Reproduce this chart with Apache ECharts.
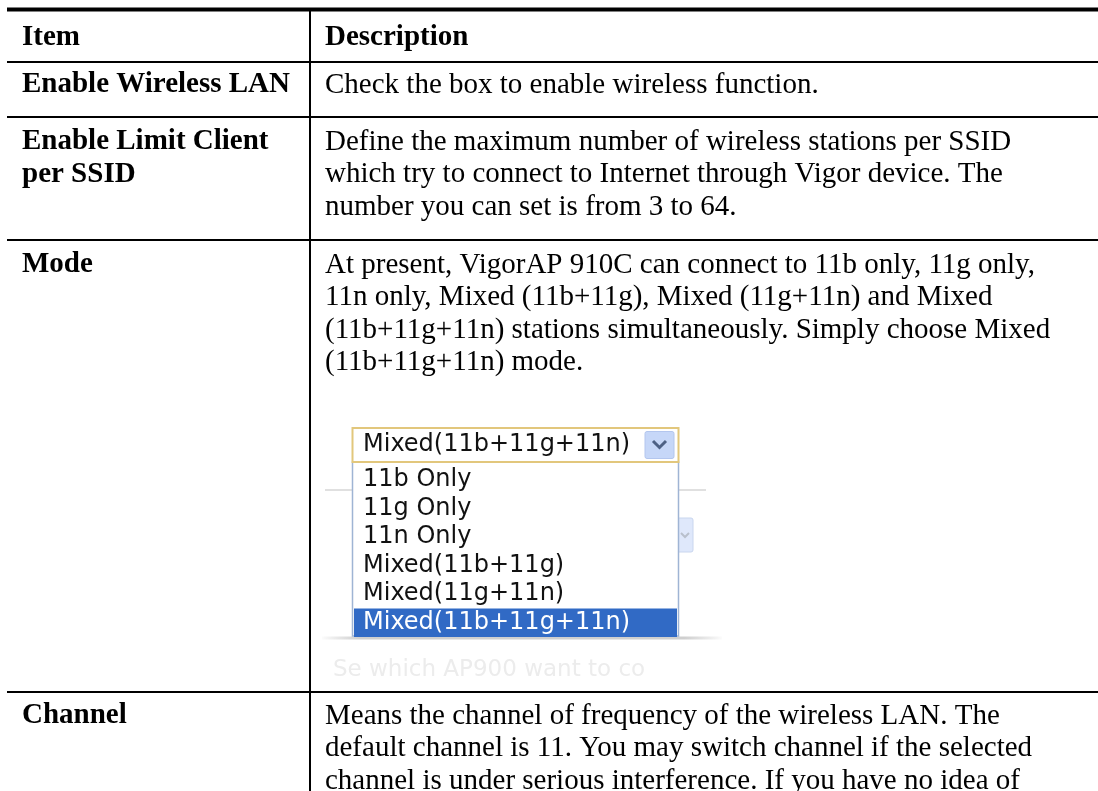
<!DOCTYPE html>
<html>
<head>
<meta charset="utf-8">
<script src="https://cdn.jsdelivr.net/npm/echarts@6/dist/echarts.min.js"></script>
<style>
html,body{margin:0;padding:0;background:#fff;}
#chart{width:1098px;height:791px;}
</style>
</head>
<body>
<div id="chart"></div>
<script>
// ---- content ----
const headers = ['Item', 'Description'];
const items = [
  ['Enable Wireless LAN'],
  ['Enable Limit Client', 'per SSID'],
  ['Mode'],
  ['Channel']
];
const descriptions = [
  ['Check the box to enable wireless function.'],
  ['Define the maximum number of wireless stations per SSID',
   'which try to connect to Internet through Vigor device. The',
   'number you can set is from 3 to 64.'],
  ['At present, VigorAP 910C can connect to 11b only, 11g only,',
   '11n only, Mixed (11b+11g), Mixed (11g+11n) and Mixed',
   '(11b+11g+11n) stations simultaneously. Simply choose Mixed',
   '(11b+11g+11n) mode.'],
  ['Means the channel of frequency of the wireless LAN. The',
   'default channel is 11. You may switch channel if the selected',
   'channel is under serious interference. If you have no idea of']
];
const modeOptions = ['11b Only', '11g Only', '11n Only', 'Mixed(11b+11g)', 'Mixed(11g+11n)', 'Mixed(11b+11g+11n)'];
const modeSelected = 'Mixed(11b+11g+11n)';
const fadedText = 'Se which AP900 want to co';

// ---- layout ----
const W = 1098, H = 791;
const LEFT = 7, DIVX = 310, COL1X = 22, COL2X = 325;
const rowLineY = [62, 117, 240, 692];   // separators under header and each row
const firstLineOffset = [23, 25, 25, 24];
const LH = 32.5, FS = 29;
const SERIF = '"Liberation Serif", "Times New Roman", serif';
const UI = '"DejaVu Sans", Verdana, sans-serif';

const els = [];
function line(x1, y1, x2, y2, w, c) {
  els.push({type: 'line', silent: true, shape: {x1, y1, x2, y2}, style: {stroke: c || '#000', lineWidth: w}});
}
function text(t, x, y, size, weight, fill, family) {
  els.push({type: 'text', silent: true, x: x, y: y,
    style: {text: t, fontSize: size, fontWeight: weight || 'normal', fontFamily: family || SERIF,
      fill: fill || '#000', align: 'left', verticalAlign: 'middle', textAlign: 'left', textVerticalAlign: 'middle'}});
}
function rect(x, y, w, h, fill, stroke, lw, r) {
  els.push({type: 'rect', silent: true, shape: {x, y, width: w, height: h, r: r || 0},
    style: {fill: fill, stroke: stroke || null, lineWidth: lw || 0}});
}

// table rules
line(LEFT, 9.5, W, 9.5, 4);
rowLineY.forEach(y => line(LEFT, y, W, y, 2));
line(DIVX, 8, DIVX, H, 2);

// header
text(headers[0], COL1X, 38, FS, 'bold');
text(headers[1], COL2X, 38, FS, 'bold');

// rows
items.forEach((lines, i) => {
  const y0 = rowLineY[i] + firstLineOffset[i];
  lines.forEach((t, k) => text(t, COL1X, y0 + k * LH, FS, 'bold'));
  descriptions[i].forEach((t, k) => text(t, COL2X, y0 + k * LH, FS, 'normal'));
});

// ---- dropdown screenshot ----
const SX = 352.5, SW = 326;
// faint background page elements
line(325, 490, 706, 490, 1.5, '#d6d6d6');
rect(676, 518, 17, 34, '#dfe8fb', '#c9d6ee', 1, 2);
els.push({type: 'polyline', silent: true, shape: {points: [[681, 533], [685, 537], [689, 533]]}, style: {stroke: '#b9c0cc', lineWidth: 2, fill: null}});
els.push({type: 'line', silent: true, shape: {x1: 322, y1: 638, x2: 722, y2: 638},
  style: {lineWidth: 3, stroke: {type: 'linear', x: 0, y: 0, x2: 1, y2: 0, colorStops: [
    {offset: 0, color: 'rgba(200,200,200,0)'}, {offset: 0.1, color: '#cfcfcf'}, {offset: 0.9, color: '#cfcfcf'}, {offset: 1, color: 'rgba(200,200,200,0)'}]}}});
text(fadedText, 333, 670, 23, 'normal', '#ececec', UI);

// list
rect(SX, 462, SW, 174, '#fff', '#9fb4d4', 1.5);
const OPT_Y0 = 480, OPT_H = 28.5;
modeOptions.forEach((t, i) => {
  const y = OPT_Y0 + i * OPT_H;
  const sel = t === modeSelected;
  if (sel) rect(SX + 1.5, y - 14, SW - 3, 28.5, '#316ac5');
  text(t, 363, y, 24, 'normal', sel ? '#fff' : '#111', UI);
});

// select box
rect(SX, 428, SW, 34, '#fff', '#e2c77c', 2);
rect(645, 431.5, 29, 27, '#c6d7f8', '#b3c6ee', 1, 2);
els.push({type: 'polyline', silent: true, shape: {points: [[653, 441], [659.5, 447.5], [666, 441]]}, style: {stroke: '#4d6185', lineWidth: 3, fill: null}});
text(modeSelected, 363, 445, 24, 'normal', '#111', UI);

const chart = echarts.init(document.getElementById('chart'), null, {renderer: 'canvas'});
chart.setOption({animation: false, backgroundColor: '#fff', graphic: {elements: els}});
</script>
</body>
</html>
